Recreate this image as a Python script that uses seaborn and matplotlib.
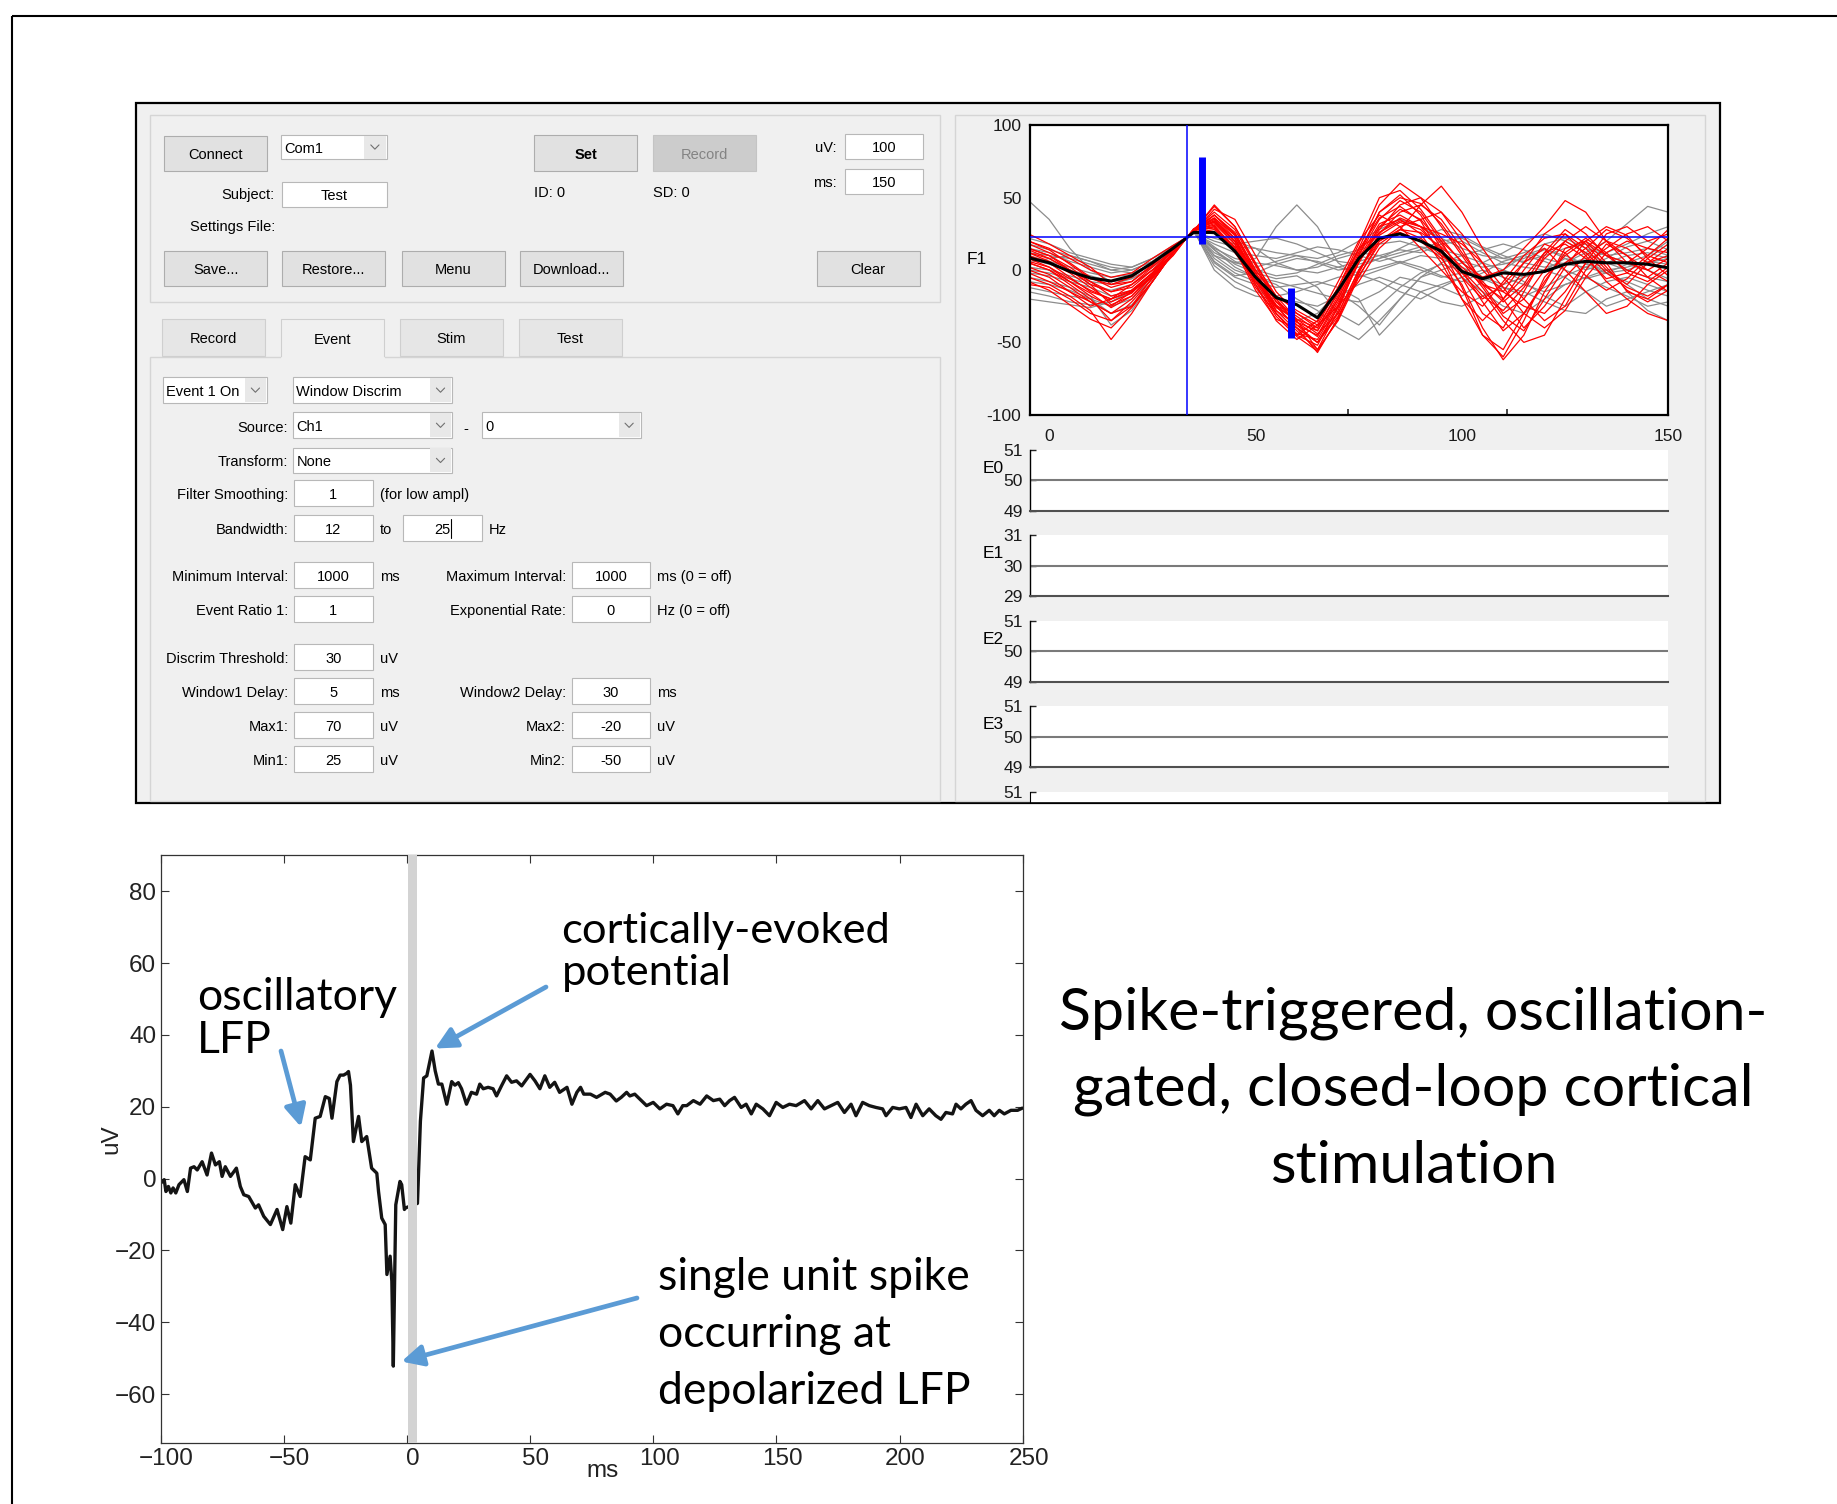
import numpy as np
import pandas as pd
import matplotlib
matplotlib.use("Agg")
import matplotlib.pyplot as plt
import matplotlib.transforms as mtransforms
import seaborn as sns
from matplotlib.patches import Rectangle, FancyArrowPatch

# ------------------------------------------------------------------ data
# Spike-triggered LFP average (bottom chart), time in ms, amplitude in uV
lfp_ms = [-99.8, -99.2, -98.5, -97.8, -96.8, -95.8, -94.9, -93.8, -92.5, -90.5,
          -89.1, -87.8, -86.4, -85.1, -83.1, -81.1, -79.3, -77.7, -76.1, -75.0,
          -73.7, -71.6, -69.2, -67.6, -66.2, -64.2, -61.5, -60.2, -58.1, -55.4,
          -52.7, -50.4, -48.7, -47.1, -45.3, -43.3, -41.3, -39.2, -37.2, -35.2,
          -33.1, -31.5, -30.4, -28.4, -27.1, -25.7, -24.4, -23.7, -22.9, -21.7,
          -19.6, -18.3, -16.3, -14.3, -12.2, -11.5, -10.2, -8.8, -8.1, -6.8,
          -6.1, -5.5, -4.5, -2.8, -2.1, -1.0, -0.7,
          4.3, 5.5, 6.8, 8.1, 10.2, 11.5, 12.8, 14.2, 16.2, 18.2,
          19.5, 20.9, 22.2, 24.2, 26.2, 28.3, 29.6, 31.0, 33.0, 35.0,
          36.4, 38.4, 40.5, 42.5, 44.5, 46.6, 50.0, 52.0, 54.0, 56.0,
          58.0, 60.0, 62.0, 65.0, 67.0, 69.0, 70.5, 71.8, 74.5, 77.0,
          80.5, 82.5, 85.0, 87.0, 89.2, 90.5, 92.5, 97.3, 100.0, 102.7,
          105.4, 108.0, 110.0, 112.0, 113.6, 116.3, 119.0, 121.7, 124.4, 127.0,
          129.0, 131.0, 133.0, 135.7, 137.7, 139.8, 141.8, 144.5, 147.2, 149.9,
          152.6, 155.3, 158.0, 161.4, 164.1, 166.8, 169.5, 172.2, 174.9, 177.6,
          180.3, 182.3, 185.0, 187.7, 190.4, 193.1, 194.5, 197.2, 199.9, 202.6,
          204.6, 206.7, 209.4, 212.0, 214.7, 216.8, 218.8, 221.5, 222.9, 224.9,
          226.9, 229.0, 231.0, 233.7, 236.4, 238.4, 240.5, 242.5, 245.2, 247.9,
          249.8]
lfp_uv = [-1.2, -0.8, -0.3, -3.6, -2.2, -4.0, -2.6, -4.0, -1.7, -0.3,
          -3.6, 2.9, 3.3, 2.4, 4.7, 1.0, 7.1, 3.8, 4.7, 0.6,
          3.3, 0.6, 2.9, -2.2, -4.5, -5.0, -8.2, -7.3, -10.5, -12.8,
          -8.6, -14.2, -7.8, -12.4, -1.7, -5.0, 6.1, 5.2, 16.8, 17.3,
          22.8, 22.3, 16.8, 27.0, 28.8, 28.8, 29.3, 29.8, 26.0, 10.3,
          17.3, 10.3, 11.7, 2.9, 1.5, -3.6, -11.0, -12.8, -26.7, -21.6,
          -28.6, -52.2, -7.3, -0.8, -1.7, -8.6, -8.2,
          -6.9, 16.0, 28.0, 28.6, 35.5, 30.0, 26.3, 26.3, 20.7, 27.0,
          26.0, 26.7, 25.0, 20.7, 24.0, 23.5, 26.3, 25.0, 25.4, 25.0,
          23.0, 25.8, 28.6, 26.8, 27.2, 25.8, 29.0, 27.2, 25.0, 28.6,
          25.4, 26.8, 24.0, 25.4, 20.7, 24.0, 25.4, 23.5, 23.5, 22.6,
          24.0, 23.5, 21.6, 22.6, 24.0, 23.0, 23.5, 20.3, 21.2, 19.4,
          20.7, 20.3, 18.0, 20.3, 20.3, 21.7, 20.7, 23.0, 21.7, 22.1,
          20.3, 21.7, 22.6, 19.8, 20.7, 18.0, 20.7, 19.4, 17.5, 21.2,
          19.8, 20.7, 20.3, 21.7, 19.4, 21.7, 19.4, 20.3, 21.2, 18.4,
          20.7, 17.5, 21.2, 20.3, 19.8, 19.4, 17.5, 19.8, 19.4, 19.8,
          17.0, 20.7, 17.5, 19.4, 17.5, 16.5, 18.4, 18.0, 20.7, 19.4,
          20.7, 21.7, 19.0, 17.5, 19.0, 17.5, 19.0, 18.0, 19.0, 19.0,
          19.6]
lfp_xticks = [-100, -50, 0, 50, 100, 150, 200, 250]
lfp_yticks = [-60, -40, -20, 0, 20, 40, 60, 80]
stim_band = [0.3, 4.0]          # ms, grey stimulation artefact band

# F1 panel: triggered sweeps (ms / uV)
f1_ms = [-5, 0, 5, 10, 15, 20, 25, 30, 35, 40, 45, 50, 55, 60, 65, 70, 75, 80,
         85, 90, 95, 100, 105, 110, 115, 120, 125, 130, 135, 140, 145, 150]
f1_mean = [8.5, 5, -1, -5.5, -7.6, -4, 5, 15, 26, 26, 13, -5, -19, -24, -33, -14,
           8, 22, 25, 20, 13, -1, -6, -2, -3, -1, 4, 6, 5, 5, 4, 1.5]
red_1 = [15, 10, 2, -8, -15, -10, 2, 14, 27, 45, 30, 5, -20, -38, -45, -20, 10, 35, 48, 40, 20, -5, -30, -40, -15, 10, 25, 15, 0, -10, 5, 15]
red_2 = [5, 0, -10, -20, -35, -25, -5, 12, 27.7, 35, 20, -5, -30, -45, -52, -25, 5, 30, 35, 25, 5, -20, -45, -60, -35, -5, 10, 20, 5, -15, -20, -10]
red_3 = [20, 15, 8, 0, -5, -2, 8, 17, 25.5, 28, 15, -5, -25, -30, -40, -15, 15, 45, 60, 50, 30, 10, -10, -15, 5, 25, 35, 25, 10, 0, -5, 5]
red_4 = [0, -5, -15, -25, -20, -10, 0, 10, 28.5, 38, 25, 0, -20, -35, -55, -35, -5, 20, 30, 35, 40, 25, 5, -20, -40, -25, -5, 10, 20, 15, 5, 10]
red_5 = [10, 5, -5, -15, -20, -15, -2, 14, 27, 32, 18, -10, -35, -48, -38, -12, 15, 25, 40, 45, 35, 15, -10, -30, -20, 0, 20, 30, 20, 10, -5, -15]
red_6 = [25, 18, 10, 2, -10, -5, 5, 16, 26, 30, 12, -8, -25, -40, -50, -30, 0, 20, 28, 22, 10, 0, -15, -35, -50, -45, -20, 5, 25, 30, 20, 25]
red_7 = [-5, -10, -18, -28, -48, -30, -8, 12, 27.7, 40, 28, 3, -22, -32, -42, -18, 12, 40, 52, 38, 15, -12, -45, -55, -30, -10, 15, 20, 10, 5, 15, 28]
red_8 = [8, 2, -8, -18, -25, -15, -5, 10, 28.5, 33, 20, -2, -28, -42, -55, -28, 8, 32, 38, 30, 12, -5, -20, -10, 5, 15, 0, -15, -30, -25, -10, 0]
red_9 = [12, 8, 0, -10, -15, -12, 0, 14, 27, 36, 22, -4, -24, -36, -46, -22, 5, 28, 45, 50, 40, 20, 0, -15, -25, -30, -15, 5, 15, 25, 30, 20]
red_10 = [-10, -12, -20, -30, -35, -22, -6, 12, 27.7, 29, 16, -12, -30, -45, -35, -8, 20, 38, 30, 15, 0, -15, -25, -8, 10, 22, 25, 10, -8, -20, -30, -35]
red_11 = [18, 12, 5, -5, -12, -8, 3, 16, 26, 42, 35, 10, -15, -30, -38, -25, -8, 15, 28, 45, 58, 40, 15, -5, -20, -35, -25, 0, 18, 10, 0, -8]
red_12 = [2, -3, -12, -22, -30, -20, -4, 12, 27.7, 34, 22, -6, -26, -34, -44, -30, 0, 22, 26, 20, 8, -10, -40, -62, -45, -15, 5, 15, 28, 22, 10, 5]
red_13 = [15, 10, 0, -8, -18, -14, -2, 14, 27, 38, 26, 0, -18, -28, -36, -12, 18, 50, 55, 42, 22, 5, -5, 0, 15, 30, 48, 40, 20, 5, 0, 8]
red_14 = [5, 0, -8, -16, -26, -18, -3, 12, 27.7, 31, 14, -14, -34, -40, -57, -33, -2, 24, 33, 28, 14, -2, -18, -28, -12, 8, 20, 12, -2, -12, -18, -10]
red_15 = [-2, -8, -15, -22, -30, -25, -8, 12, 27.7, 36, 24, -2, -25, -40, -50, -26, 6, 30, 42, 35, 18, 0, -22, -42, -30, -8, 12, 22, 12, -2, -8, 2]
red_16 = [12, 6, -2, -12, -22, -16, -2, 14, 27, 34, 20, -8, -30, -44, -48, -24, 10, 40, 50, 46, 32, 12, -8, -22, -10, 12, 28, 18, 2, -14, -22, -14]
red_17 = [20, 14, 4, -6, -10, -8, 4, 16, 26, 38, 24, -2, -22, -36, -42, -20, 8, 26, 34, 30, 25, 18, 5, -12, -30, -40, -28, -5, 12, 20, 15, 12]
red_18 = [-8, -14, -24, -34, -40, -26, -8, 12, 27.7, 33, 18, -6, -28, -38, -50, -32, -4, 18, 28, 26, 16, 2, -10, -20, -5, 12, 18, 8, -6, -2, 10, 22]
red_19 = [6, 2, -6, -14, -20, -14, -2, 14, 27, 44, 30, 4, -18, -34, -40, -16, 14, 36, 44, 34, 10, -20, -35, -20, 0, 18, 12, -4, -14, -6, 8, 18]
red_20 = [14, 8, 0, -10, -24, -18, -4, 12, 27.7, 30, 16, -10, -32, -46, -56, -34, -2, 26, 36, 30, 20, 6, -12, -32, -42, -20, 2, 20, 30, 24, 8, -4]
gray_1 = [48, 35, 15, 0, -8, -5, 5, 15, 26, 12, 5, 8, 30, 45, 30, 5, -5, 0, 5, 10, 8, 2, -5, 0, 10, 15, 8, 0, 5, 10, 12, 8]
gray_2 = [-5, -8, -12, -18, -38, -28, -8, 12, 27.7, 5, -5, -10, -25, -35, -30, -15, -25, -38, -20, -5, 0, 5, -5, -10, -5, 0, -5, -15, -25, -20, -15, -10]
gray_3 = [10, 6, 2, -2, -5, -3, 5, 15, 26, 15, 8, 5, 3, 0, -2, 2, 6, 10, 14, 12, 18, 20, 12, 5, 2, 0, 4, 8, 12, 18, 25, 30]
gray_4 = [-12, -15, -18, -20, -25, -20, -6, 12, 27.7, 8, -2, -8, -12, -10, -8, -12, -20, -45, -30, -15, -10, -5, 0, -5, -10, -15, -10, -5, -12, -18, -25, -22]
gray_5 = [5, 8, 10, 6, 0, 2, 8, 17, 25.5, 18, 12, 10, 8, 12, 16, 14, 10, 6, 10, 14, 20, 22, 15, 8, 6, 10, 15, 18, 10, 5, 10, 20]
gray_6 = [0, -2, -6, -10, -14, -10, 0, 14, 27, 3, -8, -15, -18, -15, -10, -5, -3, -8, -15, -20, -12, -5, -15, -25, -30, -20, -10, -5, 0, -10, -20, -25]
gray_7 = [15, 12, 6, 2, -2, 0, 6, 16, 26, 20, 16, 15, 12, 10, 8, 12, 20, 28, 35, 30, 22, 15, 10, 8, 12, 18, 22, 15, 10, 12, 15, 10]
gray_8 = [-8, -10, -14, -20, -30, -24, -8, 12, 27.7, 10, 0, -5, -8, -12, -16, -20, -22, -15, -5, -8, -12, -18, -8, 0, -8, -18, -25, -15, -8, -5, -10, -15]
gray_9 = [22, 18, 12, 8, 4, 2, 8, 16, 26, 14, 2, -5, -10, -20, -28, -40, -48, -35, -20, -5, 5, 10, 5, 0, -5, 0, 8, 5, -2, 0, 5, 8]
gray_10 = [2, 0, -4, -8, -10, -6, 2, 14, 27, 25, 20, 15, 5, 0, 2, 8, 12, 10, 5, 0, -5, -2, 5, 12, 20, 25, 20, 12, 5, 0, -5, -8]
gray_11 = [-15, -18, -22, -24, -22, -15, -4, 12, 27.7, 0, -12, -18, -20, -22, -25, -18, -10, -5, -10, -15, -22, -25, -18, -12, -15, -22, -28, -30, -20, -15, -28, -35]
gray_12 = [12, 10, 8, 4, 0, -2, 4, 15, 26, 10, 5, 2, 6, 10, 5, 0, 2, 8, 15, 22, 28, 24, 16, 10, 5, 2, 5, 12, 20, 32, 44, 40]
gray_13 = [8, 4, 0, -4, -8, -6, 2, 14, 27, 16, 6, 0, -4, -2, 4, 10, 14, 18, 20, 16, 10, 6, 2, 4, 8, 14, 10, 4, 0, 2, 6, 4]
gray_14 = [-2, -4, -8, -12, -18, -14, -2, 14, 27, 6, -4, -2, 4, 8, 6, 2, -2, 2, 6, 2, -4, -8, -2, 6, 10, 6, 0, -6, -2, 4, 0, -6]
gray_15 = [18, 14, 10, 6, 2, 0, 6, 16, 26, 22, 18, 20, 22, 18, 12, 6, 4, 8, 12, 16, 14, 10, 14, 18, 14, 8, 4, 2, 8, 16, 20, 14]
gray_16 = [-20, -22, -24, -26, -22, -14, -4, 12, 27.7, 14, 4, -2, -6, -4, -12, -30, -38, -25, -12, -2, 4, 0, -6, -12, -18, -12, -4, 2, -2, -8, -14, -18]
red_traces = [red_1, red_2, red_3, red_4, red_5, red_6, red_7, red_8, red_9, red_10,
              red_11, red_12, red_13, red_14, red_15, red_16, red_17, red_18, red_19, red_20]
gray_traces = [gray_1, gray_2, gray_3, gray_4, gray_5, gray_6, gray_7, gray_8,
               gray_9, gray_10, gray_11, gray_12, gray_13, gray_14, gray_15, gray_16]
f1_xticks = [0, 50, 100, 150]
f1_minor = [72.4, 111]
f1_yticks = [-100, -50, 0, 50, 100]
f1_yticklabels = ["-100", "-50", "0", "50", "100"]
trig_ms = 33.5        # trigger crossing time
trig_uv = 22.8        # threshold level
win_ms = [37.1, 58.6]
win_lo = [18.0, -47.0]
win_hi = [78.0, -12.6]
e_names = ["E0", "E1", "E2", "E3"]
e_levels = [50, 30, 50, 50]

# ------------------------------------------------------------------ style
sns.set_style("ticks")
GUI_FONT = ["Liberation Sans", "DejaVu Sans"]
ANN_FONT = ["Lato", "DejaVu Sans"]
plt.rcParams["font.family"] = ["Liberation Sans", "DejaVu Sans"]

W, H = 1837, 1504
S = W / 1568.0


def px(v):
    return v * S


fig = plt.figure(figsize=(W / 100, H / 100), dpi=100)
fig.patch.set_facecolor("white")


def add_ax(x0, y0, x1, y1, z=2):
    return fig.add_axes([px(x0) / W, 1 - px(y1) / H, px(x1 - x0) / W, px(y1 - y0) / H], zorder=z)


bg = fig.add_axes([0, 0, 1, 1], zorder=0)
bg.set_xlim(0, W)
bg.set_ylim(H, 0)
bg.axis("off")

# slide frame
bg.plot([px(10), W + 5], [px(14), px(14)], color="black", lw=1.5, solid_capstyle="butt")
bg.plot([px(10), px(10)], [px(14), H + 5], color="black", lw=1.5, solid_capstyle="butt")

GFS = 10.5


def rect(x0, y0, x1, y1, fc, ec, lw=0.8, z=1):
    bg.add_patch(Rectangle((px(x0), px(y0)), px(x1 - x0), px(y1 - y0),
                           facecolor=fc, edgecolor=ec, lw=lw, zorder=z))


def txt(x, y, s, ha="left", color="black", fs=GFS, weight="normal", z=3):
    bg.text(px(x), px(y + 1.5), s, ha=ha, va="center", fontsize=fs, color=color,
            fontweight=weight, family=GUI_FONT, zorder=z)


def button(x0, y0, x1, y1, s, fc="#e1e1e1", ec="#adadad", color="black", weight="normal"):
    rect(x0, y0, x1, y1, fc, ec, z=2)
    txt((x0 + x1) / 2, (y0 + y1) / 2, s, ha="center", color=color, weight=weight)


def edit(x0, y0, x1, y1, s):
    rect(x0, y0, x1, y1, "white", "#b8b8b8", z=2)
    txt((x0 + x1) / 2, (y0 + y1) / 2, s, ha="center")


def chevron(cx, cy):
    bg.plot([px(cx - 3.5), px(cx), px(cx + 3.5)], [px(cy - 1.8), px(cy + 1.8), px(cy - 1.8)],
            color="#707070", lw=0.8, zorder=4)


def dropdown(x0, y0, x1, y1, s):
    rect(x0, y0, x1, y1, "white", "#b8b8b8", z=2)
    rect(x1 - 19, y0 + 0.7, x1 - 0.7, y1 - 0.7, "#e8e8e8", "none", z=2.5)
    chevron(x1 - 10, (y0 + y1) / 2)
    txt(x0 + 3, (y0 + y1) / 2, s)


# GUI window
rect(116, 88, 1468, 685, "#f0f0f0", "black", lw=1.6, z=1)
rect(128, 98, 802, 258, "none", "#d5d5d5", lw=1, z=1.5)
rect(128, 305, 802, 684, "none", "#d5d5d5", lw=1, z=1.5)
rect(815, 98, 1455, 684, "none", "#d5d5d5", lw=1, z=1.5)

button(140, 116, 228, 146, "Connect")
dropdown(240, 115, 330, 136, "Com1")
button(456, 115, 544, 146, "Set", weight="bold")
button(557, 115, 645, 146, "Record", fc="#cccccc", ec="#c4c4c4", color="#838383")
txt(714, 125, "uV:", ha="right")
edit(721, 114, 788, 136, "100")
txt(714, 155, "ms:", ha="right")
edit(721, 144, 788, 166, "150")
txt(234, 165, "Subject:", ha="right")
edit(241, 155, 330, 177, "Test")
txt(456, 163, "ID: 0")
txt(557, 163, "SD: 0")
txt(162, 192, "Settings File:")
button(140, 214, 228, 244, "Save...")
button(241, 214, 329, 244, "Restore...")
button(343, 214, 431, 244, "Menu")
button(444, 214, 532, 244, "Download...")
button(697, 214, 785, 244, "Clear")

# tabs
button(138, 272, 226, 304, "Record", fc="#e6e6e6", ec="#cfcfcf")
rect(240, 272, 328, 306, "#f0f0f0", "#cfcfcf", z=2)
bg.plot([px(241), px(327)], [px(305.5), px(305.5)], color="#f0f0f0", lw=2.5, zorder=2.6)
txt(284, 289, "Event", ha="center")
button(341, 272, 429, 304, "Stim", fc="#e6e6e6", ec="#cfcfcf")
button(443, 272, 531, 304, "Test", fc="#e6e6e6", ec="#cfcfcf")

# tab content
dropdown(139, 322, 228, 344, "Event 1 On")
dropdown(250, 322, 386, 344, "Window Discrim")
txt(246, 364, "Source:", ha="right")
dropdown(250, 352, 386, 374, "Ch1")
txt(398, 365, "-", ha="center")
dropdown(411, 352, 547, 374, "0")
txt(246, 393, "Transform:", ha="right")
dropdown(250, 382, 386, 404, "None")
txt(246, 421, "Filter Smoothing:", ha="right")
edit(251, 410, 318, 432, "1")
txt(324, 421, "(for low ampl)")
txt(246, 451, "Bandwidth:", ha="right")
edit(251, 440, 318, 462, "12")
txt(324, 451, "to")
edit(344, 440, 411, 462, "25")
bg.plot([px(385), px(385)], [px(443), px(459)], color="black", lw=0.8, zorder=4)
txt(417, 451, "Hz")

rows_left = [(491, "Minimum Interval:", "1000", "ms"),
             (520, "Event Ratio 1:", "1", ""),
             (561, "Discrim Threshold:", "30", "uV"),
             (590, "Window1 Delay:", "5", "ms"),
             (619, "Max1:", "70", "uV"),
             (648, "Min1:", "25", "uV")]
rows_right = [(491, "Maximum Interval:", "1000", "ms (0 = off)"),
              (520, "Exponential Rate:", "0", "Hz (0 = off)"),
              (590, "Window2 Delay:", "30", "ms"),
              (619, "Max2:", "-20", "uV"),
              (648, "Min2:", "-50", "uV")]
for y, lab, val, unit in rows_left:
    txt(246, y, lab, ha="right")
    edit(251, y - 11, 318, y + 11, val)
    if unit:
        txt(324, y, unit)
for y, lab, val, unit in rows_right:
    txt(483, y, lab, ha="right")
    edit(488, y - 11, 555, y + 11, val)
    txt(561, y, unit)

# ------------------------------------------------------------------ F1 panel
ax_f1 = add_ax(879, 107, 1424, 354)
ax_f1.set_facecolor("white")
rows = []
for k, tr in enumerate(gray_traces):
    rows += [{"ms": m, "uV": v, "trace": k} for m, v in zip(f1_ms, tr)]
df_gray = pd.DataFrame(rows)
rows = []
for k, tr in enumerate(red_traces):
    rows += [{"ms": m, "uV": v, "trace": k} for m, v in zip(f1_ms, tr)]
df_red = pd.DataFrame(rows)
sns.lineplot(data=df_gray, x="ms", y="uV", units="trace", estimator=None, sort=False,
             color="#8c8c8c", lw=0.9, ax=ax_f1, zorder=1)
sns.lineplot(data=df_red, x="ms", y="uV", units="trace", estimator=None, sort=False,
             color="#ff0000", lw=0.9, ax=ax_f1, zorder=2)
sns.lineplot(x=f1_ms, y=f1_mean, estimator=None, sort=False, color="black", lw=2.2,
             ax=ax_f1, zorder=3)
ax_f1.axvline(trig_ms, color="#0000ff", lw=1.1, zorder=4)
ax_f1.axhline(trig_uv, color="#0000ff", lw=1.1, zorder=4)
ax_f1.vlines(win_ms, win_lo, win_hi, color="#0000ff", lw=5, zorder=5)
ax_f1.set_xlim(-4.7, 150)
ax_f1.set_ylim(-100, 100)
ax_f1.set_xticks(f1_xticks)
ax_f1.set_xticks(f1_minor, minor=True)
ax_f1.set_xticklabels([str(t) for t in f1_xticks])
ax_f1.set_yticks(f1_yticks)
ax_f1.set_yticklabels(f1_yticklabels)
ax_f1.tick_params(axis="x", which="major", length=0, pad=10, labelsize=12.5)
ax_f1.tick_params(axis="x", which="minor", direction="in", length=4, width=1.2)
ax_f1.tick_params(axis="y", length=0, pad=6, labelsize=12.5)
for lab in ax_f1.get_xticklabels() + ax_f1.get_yticklabels():
    lab.set_family(GUI_FONT)
    lab.set_color("#1a1a1a")
for sp in ax_f1.spines.values():
    sp.set_color("black")
    sp.set_linewidth(1.6)
ax_f1.set_xlabel("")
ax_f1.set_ylabel("")
txt(834, 220, "F1", ha="center", fs=12.5)

# event channel strips
for i, (name, lev) in enumerate(zip(e_names, e_levels)):
    y0 = 384 + 73 * i
    ax = add_ax(879, y0, 1424, y0 + 52)
    ax.set_facecolor("white")
    ax.axhline(lev, color="#7a7a7a", lw=1.5)
    ax.set_xlim(-4.7, 150)
    ax.set_ylim(lev - 1, lev + 1)
    ax.set_xticks([])
    ax.set_yticks([lev - 1, lev, lev + 1])
    ax.set_yticklabels([str(lev - 1), str(lev), str(lev + 1)])
    ax.tick_params(axis="y", direction="in", length=4, width=1, pad=5, labelsize=12.5)
    for lab in ax.get_yticklabels():
        lab.set_family(GUI_FONT)
        lab.set_color("#1a1a1a")
    ax.spines["top"].set_visible(False)
    ax.spines["right"].set_visible(False)
    ax.spines["left"].set_color("black")
    ax.spines["left"].set_linewidth(1)
    ax.spines["bottom"].set_color("#505050")
    ax.spines["bottom"].set_linewidth(1.5)
    txt(839, y0 + 14, name, fs=12.5, z=5)

ax_e4 = add_ax(879, 676, 1424, 684.2)
ax_e4.set_facecolor("white")
ax_e4.set_xlim(-4.7, 150)
ax_e4.set_ylim(50.69, 51)
ax_e4.set_xticks([])
ax_e4.set_yticks([51])
ax_e4.set_yticklabels(["51"])
ax_e4.tick_params(axis="y", direction="in", length=4, width=1, pad=5, labelsize=12.5)
for lab in ax_e4.get_yticklabels():
    lab.set_family(GUI_FONT)
    lab.set_color("#1a1a1a")
for k in ["top", "right", "bottom"]:
    ax_e4.spines[k].set_visible(False)
ax_e4.spines["left"].set_color("black")

# ------------------------------------------------------------------ LFP chart
ax_l = add_ax(137, 730, 873, 1232)
ax_l.set_facecolor("white")
sns.lineplot(x=lfp_ms, y=lfp_uv, estimator=None, sort=False, color="#141414", lw=2.4,
             ax=ax_l, zorder=2)
ax_l.axvspan(stim_band[0], stim_band[1], color="#d3d3d3", lw=0, zorder=3)
ax_l.set_xlim(-100, 250)
ax_l.set_ylim(-73.7, 90)
ax_l.set_xticks(lfp_xticks)
ax_l.set_yticks(lfp_yticks)
ax_l.tick_params(direction="in", top=True, right=True, length=6, width=0.8,
                 labelsize=17.5, colors="#333333", labelcolor="#222222")
ax_l.tick_params(axis="x", pad=3)
ax_l.tick_params(axis="y", pad=3)
shift = mtransforms.ScaledTranslation(6 / 100.0, 0, fig.dpi_scale_trans)
for lab in ax_l.get_xticklabels():
    lab.set_transform(lab.get_transform() + shift)
for sp in ax_l.spines.values():
    sp.set_color("#333333")
    sp.set_linewidth(0.9)
ax_l.set_xlabel("")
ax_l.set_ylabel("")
ax_l.text((514 - 137) / 736.0, -(1256 - 1232) / 502.0, "ms", transform=ax_l.transAxes,
          ha="center", va="center", fontsize=17.5, color="#222222")
ax_l.text(-(137 - 95) / 736.0, (1232 - 972) / 502.0, "uV", transform=ax_l.transAxes,
          ha="center", va="center", rotation=90, fontsize=17.5, color="#222222")

# ------------------------------------------------------------------ overlay: annotations
ov = fig.add_axes([0, 0, 1, 1], zorder=10)
ov.set_xlim(0, W)
ov.set_ylim(H, 0)
ov.axis("off")
ov.patch.set_alpha(0)

for x, y, s, fs in [(197, 1010.5, "oscillatory", 32), (197, 1052.6, "LFP", 32),
                    (561.5, 943, "cortically-evoked", 31.3), (561.5, 985, "potential", 31.3),
                    (658, 1290.5, "single unit spike", 32), (658, 1347.4, "occurring at", 32),
                    (658, 1404, "depolarized LFP", 32)]:
    ov.text(x, y, s, fontsize=fs, family=ANN_FONT, va="baseline", ha="left", color="black")

ARROW_C = "#5b9bd5"
for (x0, y0), (x1, y1) in [((281, 1051), (301, 1127)),
                           ((546, 987), (435, 1048.5)),
                           ((637, 1298), (401.5, 1361.5))]:
    ov.add_patch(FancyArrowPatch((x0, y0), (x1, y1), arrowstyle="-|>", mutation_scale=32,
                                 color=ARROW_C, lw=3.4, shrinkA=0, shrinkB=0))

TFS = 42.5
for y, s in [(1029, "Spike-triggered, oscillation-"),
             (1106, "gated, closed-loop cortical"),
             (1183, "stimulation")]:
    ov.text(1413.5, y, s, fontsize=TFS, family=ANN_FONT, va="baseline", ha="center", color="black")

fig.savefig("out.png", dpi=100, facecolor="white")
